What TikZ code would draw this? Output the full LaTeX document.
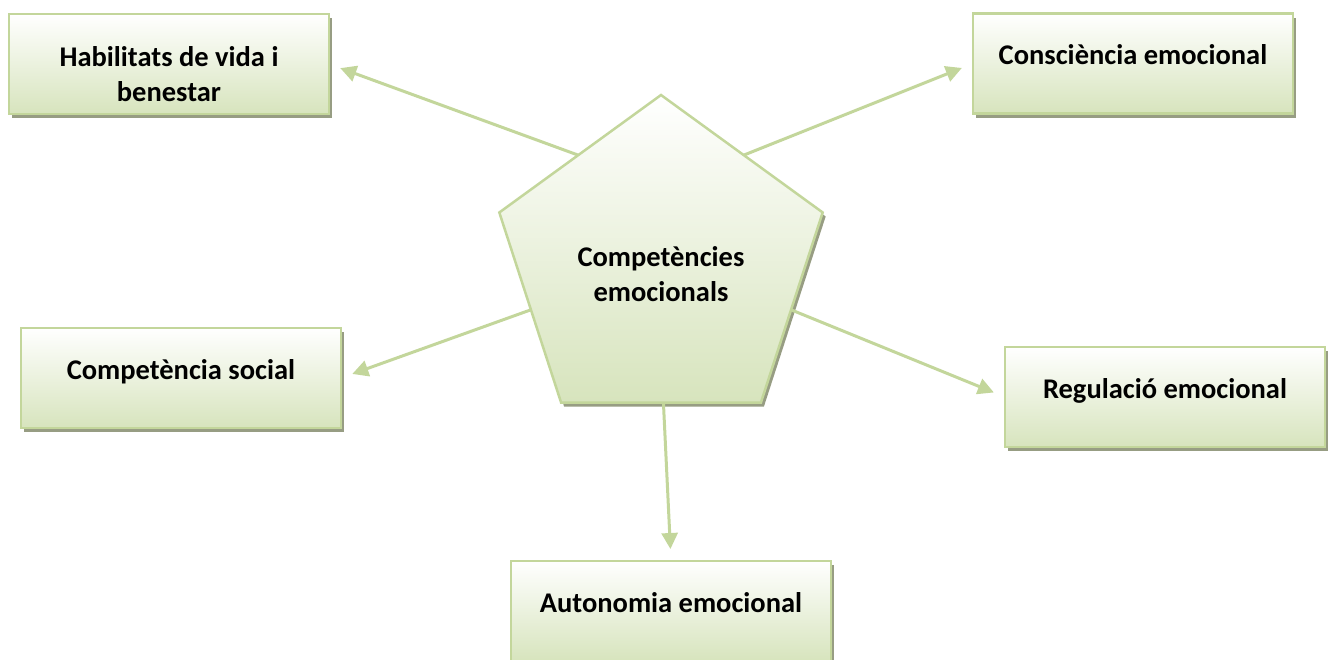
\documentclass[tikz,border=0pt]{standalone}
\usepackage{fontspec}
\setmainfont{Carlito}
\usetikzlibrary{arrows.meta,shapes.geometric,shadows}
\definecolor{lgreen}{RGB}{195,214,155}
\definecolor{bgreen}{RGB}{215,228,189}
\definecolor{shadowc}{RGB}{140,146,118}
\tikzstyle{shade}=[draw=lgreen, line width=2.5pt, top color=white, bottom color=bgreen,
 drop shadow={shadow xshift=3pt, shadow yshift=-4pt, fill=shadowc, opacity=0.9}]
\tikzstyle{box}=[shade, minimum width=320pt, minimum height=100pt, inner sep=0pt, outer sep=0pt,
 align=center, font=\fontsize{28.5}{35}\selectfont\bfseries]
\tikzstyle{one}=[text height=20pt, text depth=18pt]
\tikzstyle{two}=[text height=75pt, text depth=0pt]
\tikzstyle{pent}=[shade, regular polygon, regular polygon sides=5, minimum size=340pt,
 inner sep=0pt, outer sep=0pt, align=center, font=\fontsize{28.5}{35}\selectfont\bfseries,
 text height=73pt, text depth=0pt]
\tikzstyle{arr}=[draw=lgreen, line width=3pt, -{Triangle[length=16pt,width=16pt]}, shorten >=12pt]

\begin{document}
\begin{tikzpicture}[x=1pt,y=-1pt]
	\useasboundingbox (0,0) rectangle (1331,659);

	% Centre
	\node[pent] (comp) at (661,265) {Competències\\emocionals};
	% Boxes
	\node[box,two] (hab) at (169,64) {Habilitats de vida i\\benestar};
	\node[box,one] (cons) at (1133,63.5) {Consciència emocional};
	\node[box,one] (soc) at (181,378) {Competència social};
	\node[box,one] (reg) at (1165,397) {Regulació emocional};
	\node[box,one] (aut) at (671,611) {Autonomia emocional};

	% Arrows
	\foreach \ang/\to/\side in {127/hab/east, 53/cons/west, 199/soc/east, 341/reg/west, 271/aut/north}
	\draw[arr] (comp.\ang) -- (\to.\side);
\end{tikzpicture}
\end{document}
